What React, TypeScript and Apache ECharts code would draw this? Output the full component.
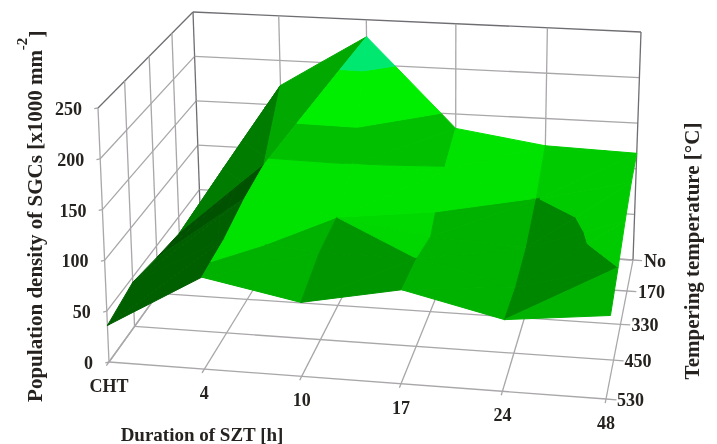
import React, { useEffect, useRef } from "react";
import * as echarts from "echarts";

const durations = ["CHT", "4", "10", "17", "24", "48"];
const temperings = ["530", "450", "330", "170", "No"];
const densityTicks = [0, 50, 100, 150, 200, 250];
const density530 = [36, 90, 72, 91, 69, 80];
const density450 = [45, 95, 88, 88, 66, 92];
const density330 = [38, 106, 92, 78, 72, 106];
const density170 = [32, 112, 118, 116, 91, 115];
const densityNo = [28, 172, 231, 134, 120, 117];
const densityRows = [density530, density450, density330, density170, densityNo];

// band limits and their green shades
const bandLimits = [0, 92, 118, 150, 200, 260];
const bandColors = [[0, 178, 0], [0, 226, 0], [0, 192, 0], [0, 238, 0], [0, 232, 112]];
// first column from which the darker 118-150 band is not drawn
const plainBandFromCol = 3;
// brightness of the lowest band: lower-right and upper-left triangle in each cell (row, col)
const lowShadeA = [
  [1, 1, 0.84, 1, 1],
  [1, 1, 1.2, 1, 0.76],
  [1, 1, 1.22, 1, 0.76],
  [1, 1, 1, 1, 0.76],
];
const lowShadeB = [
  [1, 1, 0.84, 1, 0.76],
  [1, 1, 0.84, 1, 0.76],
  [1, 1, 1.22, 1, 0.76],
  [1, 1, 1, 1, 0.76],
];
// brightness of the upper bands by column
const upperShade = [1, 1, 1, 1, 0.9];
// facets with one flat green level (0 = use the bands)
const flatA = [
  [96, 0, 0, 0, 0],
  [96, 0, 0, 0, 0],
  [82, 0, 0, 0, 0],
  [125, 0, 0, 0, 0],
];
const flatB = [
  [96, 0, 0, 0, 0],
  [96, 0, 0, 0, 0],
  [82, 0, 0, 0, 0],
  [125, 168, 0, 0, 0],
];
// cells split along the other diagonal: [row, col]
const flippedCells = [[1, 2]];

const floor = [[109, 362], [606, 399], [633, 260], [201, 234]];
const top = [[98, 108], [620, 138], [641, 32], [193, 12]];

function homography(q: number[][]) {
  const [[x0, y0], [x1, y1], [x2, y2], [x3, y3]] = q;
  const dx1 = x1 - x2, dx2 = x3 - x2, sx = x0 - x1 + x2 - x3;
  const dy1 = y1 - y2, dy2 = y3 - y2, sy = y0 - y1 + y2 - y3;
  const den = dx1 * dy2 - dx2 * dy1;
  const g = (sx * dy2 - dx2 * sy) / den;
  const h = (dx1 * sy - sx * dy1) / den;
  const a = x1 - x0 + g * x1, b = x3 - x0 + h * x3;
  const d = y1 - y0 + g * y1, e = y3 - y0 + h * y3;
  return (u: number, v: number) => {
    const w = g * u + h * v + 1;
    return [(a * u + b * v + x0) / w, (d * u + e * v + y0) / w];
  };
}
const h0 = homography(floor);
const h1 = homography(top);
const nc = durations.length - 1;
const nr = temperings.length - 1;
const zMax = 250;
function project(c: number, r: number, z: number) {
  const p = h0(c / nc, r / nr);
  const q = h1(c / nc, r / nr);
  const t = z / zMax;
  return [p[0] + (q[0] - p[0]) * t, p[1] + (q[1] - p[1]) * t];
}

type P3 = number[];
function clip(poly: P3[], limit: number, keepAbove: boolean): P3[] {
  const out: P3[] = [];
  for (let i = 0; i < poly.length; i++) {
    const a = poly[i], b = poly[(i + 1) % poly.length];
    const ia = keepAbove ? a[2] >= limit : a[2] <= limit;
    const ib = keepAbove ? b[2] >= limit : b[2] <= limit;
    if (ia) out.push(a);
    if (ia !== ib) {
      const t = (limit - a[2]) / (b[2] - a[2]);
      out.push([a[0] + (b[0] - a[0]) * t, a[1] + (b[1] - a[1]) * t, limit]);
    }
  }
  return out;
}

function facetPieces() {
  const pieces: { poly: P3[]; fill: string }[] = [];
  for (let r = nr - 1; r >= 0; r--) {
    for (let c = 0; c < nc; c++) {
      const v = (cc: number, rr: number): P3 => [cc, rr, densityRows[rr][cc]];
      const flipped = flippedCells.some((f) => f[0] === r && f[1] === c);
      const tris = flipped
        ? [
            { pts: [v(c, r), v(c + 1, r), v(c, r + 1)], low: lowShadeB[r][c], flat: flatB[r][c] },
            { pts: [v(c + 1, r), v(c + 1, r + 1), v(c, r + 1)], low: lowShadeA[r][c], flat: flatA[r][c] },
          ]
        : [
            { pts: [v(c, r), v(c + 1, r + 1), v(c, r + 1)], low: lowShadeB[r][c], flat: flatB[r][c] },
            { pts: [v(c, r), v(c + 1, r), v(c + 1, r + 1)], low: lowShadeA[r][c], flat: flatA[r][c] },
          ];
      for (const tri of tris) {
        for (let b = 0; b < bandColors.length; b++) {
          let poly = clip(tri.pts, bandLimits[b], true);
          if (poly.length) poly = clip(poly, bandLimits[b + 1], false);
          if (poly.length < 3) continue;
          let col: number[];
          if (tri.flat) col = [0, tri.flat, 0];
          else {
            const base = b === 2 && c >= plainBandFromCol ? bandColors[1] : bandColors[b];
            const k = b === 0 ? tri.low : upperShade[c];
            col = base.map((x) => Math.min(255, Math.round(x * k)));
          }
          pieces.push({ poly, fill: `rgb(${col[0]},${col[1]},${col[2]})` });
        }
      }
    }
  }
  return pieces;
}

function gridSegments() {
  const s: { a: P3; b: P3; color: string }[] = [];
  const gray = "#a9a7a9";
  const dark = "#6f6d72";
  // floor
  for (let r = 0; r <= nr; r++) s.push({ a: [0, r, 0], b: [nc, r, 0], color: gray });
  for (let c = 0; c <= nc; c++) s.push({ a: [c, 0, 0], b: [c, nr, 0], color: gray });
  // left wall
  for (const z of densityTicks) s.push({ a: [0, 0, z], b: [0, nr, z], color: z === zMax ? dark : gray });
  for (let r = 0; r <= nr; r++) s.push({ a: [0, r, 0], b: [0, r, zMax], color: r === nr ? dark : gray });
  // back wall
  for (const z of densityTicks) s.push({ a: [0, nr, z], b: [nc, nr, z], color: z === zMax ? dark : gray });
  for (let c = 1; c <= nc; c++) s.push({ a: [c, nr, 0], b: [c, nr, zMax], color: c === nc ? dark : gray });
  // ticks
  for (const z of densityTicks) s.push({ a: [0, 0, z], b: [-0.03, -0.03, z], color: gray });
  for (let c = 0; c <= nc; c++) s.push({ a: [c, 0, 0], b: [c, -0.1, 0], color: gray });
  for (let r = 0; r <= nr; r++) s.push({ a: [nc, r, 0], b: [nc + 0.1, r, 0], color: gray });
  return s;
}

const labelFont = "'Liberation Serif', serif";
const textColor = "#26221f";

export default function App() {
  const ref = useRef<HTMLDivElement>(null);
  useEffect(() => {
    const chart = echarts.init(ref.current!, null, { renderer: "svg" });
    const segs = gridSegments();
    const pieces = facetPieces();
    const tickLabels = [
      ...densityTicks.map((z) => ({ text: String(z), at: [0, 0, z], dx: -16, dy: 1, align: "right" })),
      ...durations.map((t, c) => ({ text: t, at: [c, 0, 0], dx: 0, dy: 24, align: "center" })),
      ...temperings.map((t, r) => ({ text: t, at: [nc, r, 0], dx: 11, dy: 1, align: "left" })),
    ];
    chart.setOption({
      animation: false,
      grid: { left: 0, right: 0, top: 0, bottom: 0 },
      xAxis: { type: "value", min: 0, max: 717, show: false },
      yAxis: { type: "value", min: 0, max: 444, inverse: true, show: false },
      series: [
        {
          type: "custom",
          silent: true,
          clip: false,
          data: segs.map((_, i) => [i]),
          renderItem: (_: any, api: any) => {
            const s = segs[api.value(0)];
            const a = api.coord(project(s.a[0], s.a[1], s.a[2]));
            const b = api.coord(project(s.b[0], s.b[1], s.b[2]));
            return {
              type: "line",
              shape: { x1: a[0], y1: a[1], x2: b[0], y2: b[1] },
              style: { stroke: s.color, lineWidth: 1.3 },
            };
          },
        },
        {
          type: "custom",
          silent: true,
          clip: false,
          data: pieces.map((_, i) => [i]),
          renderItem: (_: any, api: any) => {
            const p = pieces[api.value(0)];
            return {
              type: "polygon",
              shape: { points: p.poly.map((q) => api.coord(project(q[0], q[1], q[2]))) },
              style: { fill: p.fill, stroke: p.fill, lineWidth: 1, lineJoin: "round" },
            };
          },
        },
        {
          type: "custom",
          silent: true,
          clip: false,
          data: tickLabels.map((_, i) => [i]),
          renderItem: (_: any, api: any) => {
            const l = tickLabels[api.value(0)];
            const a = api.coord(project(l.at[0], l.at[1], l.at[2]));
            return {
              type: "text",
              x: a[0] + l.dx,
              y: a[1] + l.dy,
              style: {
                text: l.text,
                textAlign: l.align,
                textVerticalAlign: "middle",
                font: `bold 18px ${labelFont}`,
                fill: textColor,
              },
            };
          },
        },
      ],
      graphic: [
        { type: "text", x: 35, y: 226, rotation: Math.PI / 2,
          style: { text: "Population density of SGCs [x1000 mm", textAlign: "center", textVerticalAlign: "middle", font: `bold 21px ${labelFont}`, fill: textColor } },
        { type: "text", x: 22, y: 44, rotation: Math.PI / 2,
          style: { text: "-2", textAlign: "center", textVerticalAlign: "middle", font: `bold 15px ${labelFont}`, fill: textColor } },
        { type: "text", x: 37, y: 34, rotation: Math.PI / 2,
          style: { text: "]", textAlign: "center", textVerticalAlign: "middle", font: `bold 21px ${labelFont}`, fill: textColor } },
        { type: "text", x: 202, y: 434,
          style: { text: "Duration of SZT [h]", textAlign: "center", textVerticalAlign: "middle", font: `bold 19px ${labelFont}`, fill: textColor } },
        { type: "text", x: 692, y: 251, rotation: Math.PI / 2,
          style: { text: "Tempering temperature [°C]", textAlign: "center", textVerticalAlign: "middle", font: `bold 21px ${labelFont}`, fill: textColor } },
      ],
    });
    return () => chart.dispose();
  }, []);
  return <div ref={ref} style={{ position: "absolute", left: 0, top: 0, width: 717, height: 444, filter: "blur(0.5px)" }} />;
}
